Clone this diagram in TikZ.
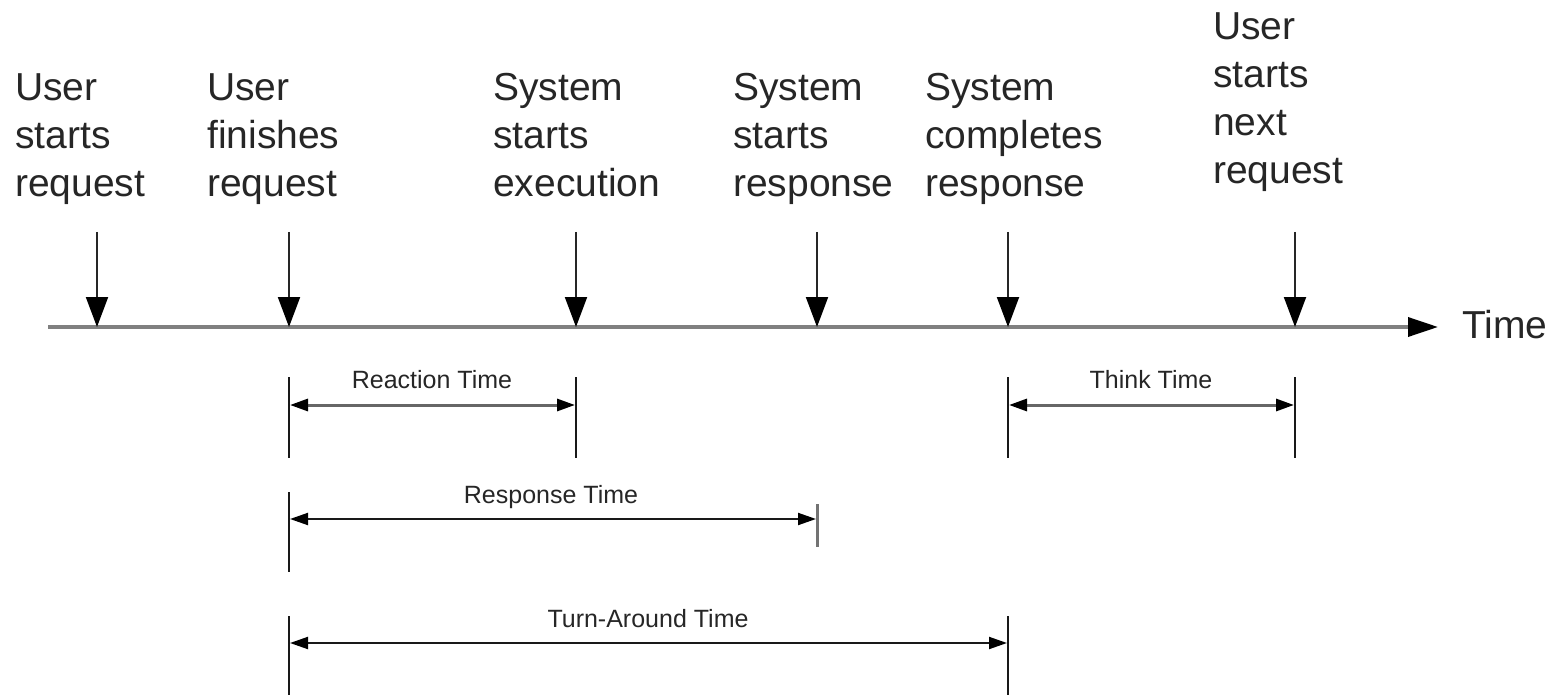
\documentclass[tikz,border=0pt]{standalone}
\usepackage{fontspec}
\setmainfont{Liberation Sans}
\usetikzlibrary{arrows.meta}
\begin{document}
\begin{tikzpicture}[x=1pt,y=-1pt,
  evlabel/.style={anchor=north west,inner sep=0pt,align=left,font=\fontsize{39}{48}\selectfont,text=black!85},
  dimlabel/.style={anchor=base,inner sep=0pt,font=\fontsize{25}{28}\selectfont,text=black!85},
  evarrow/.style={draw=black!85,line width=2pt,-{Triangle[length=30pt,width=22pt,black]}},
  timeline/.style={draw=black!50,line width=3.5pt,-{Triangle[length=30pt,width=19pt,black]}},
  bar/.style={draw=black!90,line width=2pt},
  dimarrow/.style={draw=black!90,line width=2pt,{Triangle[length=18pt,width=12pt,black]}-{Triangle[length=18pt,width=12pt,black]}}
]
\useasboundingbox (0,0) rectangle (1566,695);

% timeline
\coordinate (t0) at (48,327);
\coordinate (t1) at (1438,327);
\draw[timeline] (t0) -- (t1);
\node[anchor=base west,inner sep=0pt,font=\fontsize{39}{48}\selectfont,text=black!85] (time) at (1462,338) {Time};

% event labels
\node[evlabel] (l1) at (15,73) {User\\starts\\request};
\node[evlabel] (l2) at (207,73) {User\\finishes\\request};
\node[evlabel] (l3) at (493,73) {System\\starts\\execution};
\node[evlabel] (l4) at (733,73) {System\\starts\\response};
\node[evlabel] (l5) at (925,73) {System\\completes\\response};
\node[evlabel] (l6) at (1213,12) {User\\starts\\next\\request};

% event arrows
\foreach \n/\x in {1/97,2/289,3/576,4/817,5/1008,6/1295}{
  \coordinate (a\n) at (\x,232);
  \coordinate (b\n) at (\x,327);
  \draw[evarrow] (a\n) -- (b\n);
}

% Reaction time
\coordinate (r1t) at (289,377); \coordinate (r1b) at (289,458);
\coordinate (r2t) at (576,377); \coordinate (r2b) at (576,458);
\draw[bar] (r1t) -- (r1b);
\draw[bar] (r2t) -- (r2b);
\coordinate (ra) at (290,405); \coordinate (rb) at (575,405);
\draw[dimarrow,draw=black!60,line width=3pt] (ra) -- (rb);
\node[dimlabel] (rt) at (432,388) {Reaction Time};

% Think time
\coordinate (k1t) at (1008,377); \coordinate (k1b) at (1008,458);
\coordinate (k2t) at (1295,377); \coordinate (k2b) at (1295,458);
\draw[bar] (k1t) -- (k1b);
\draw[bar] (k2t) -- (k2b);
\coordinate (ka) at (1009,405); \coordinate (kb) at (1294,405);
\draw[dimarrow,draw=black!60,line width=3pt] (ka) -- (kb);
\node[dimlabel] (kt) at (1151,388) {Think Time};

% Response time
\coordinate (s1t) at (289,492); \coordinate (s1b) at (289,572);
\coordinate (s2t) at (817,504); \coordinate (s2b) at (817,547);
\draw[bar] (s1t) -- (s1b);
\draw[bar,draw=black!55,line width=3pt] (s2t) -- (s2b);
\coordinate (sa) at (290,519); \coordinate (sb) at (816,519);
\draw[dimarrow] (sa) -- (sb);
\node[dimlabel] (st) at (551,503) {Response Time};

% Turn-around time
\coordinate (u1t) at (289,616); \coordinate (u1b) at (289,695);
\coordinate (u2t) at (1008,616); \coordinate (u2b) at (1008,695);
\draw[bar] (u1t) -- (u1b);
\draw[bar] (u2t) -- (u2b);
\coordinate (ua) at (290,643); \coordinate (ub) at (1007,643);
\draw[dimarrow] (ua) -- (ub);
\node[dimlabel] (ut) at (648,627) {Turn-Around Time};
\end{tikzpicture}
\end{document}
